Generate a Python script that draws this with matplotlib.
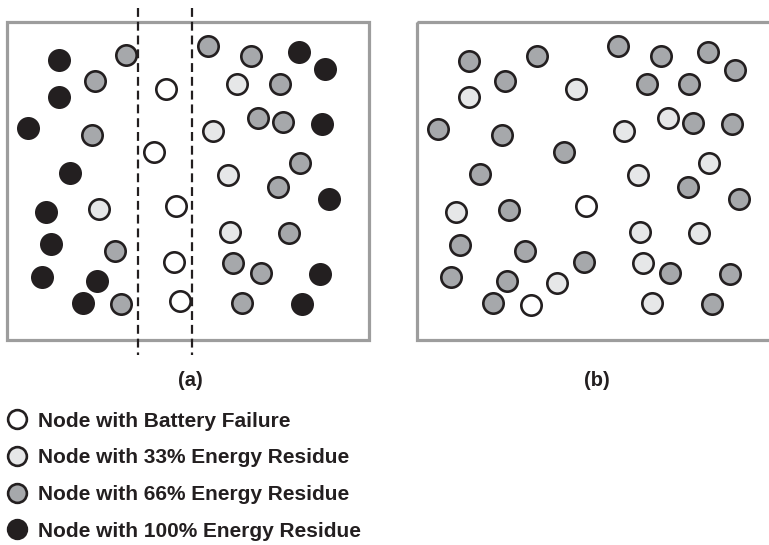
import matplotlib.pyplot as plt
from matplotlib.patches import Rectangle
from matplotlib.lines import Line2D

plt.rcParams['font.family'] = ['Liberation Sans', 'DejaVu Sans']

# node positions (pixel-like coordinates of the drawing), grouped by energy level
# panel (a)
a_dead_x = [166, 154, 176, 174, 180]
a_dead_y = [89, 152, 206, 262, 301]
a_33_x = [99, 237, 213, 228, 230]
a_33_y = [209, 84, 131, 175, 232]
a_66_x = [126, 95, 92, 115, 121, 208, 251, 280, 258, 283, 300, 278, 289, 233, 261, 242]
a_66_y = [55, 81, 135, 251, 304, 46, 56, 84, 118, 122, 163, 187, 233, 263, 273, 303]
a_100_x = [59, 59, 28, 70, 46, 51, 42, 97, 83, 299, 325, 322, 329, 320, 302]
a_100_y = [60, 97, 128, 173, 212, 244, 277, 281, 303, 52, 69, 124, 199, 274, 304]

# panel (b)
b_dead_x = [586, 531]
b_dead_y = [206, 305]
b_33_x = [469, 576, 456, 557, 624, 668, 709, 638, 640, 699, 643, 652]
b_33_y = [97, 89, 212, 283, 131, 118, 163, 175, 232, 233, 263, 303]
b_66_x = [469, 537, 505, 438, 502, 564, 480, 509, 460, 525, 451, 507, 493, 584,
          618, 661, 708, 735, 647, 689, 693, 732, 688, 739, 670, 730, 712]
b_66_y = [61, 56, 81, 129, 135, 152, 174, 210, 245, 251, 277, 281, 303, 262,
          46, 56, 52, 70, 84, 84, 123, 124, 187, 199, 273, 274, 304]

# failure zone boundaries in panel (a)
zone_x = [138, 192]

labels = ['Node with Battery Failure', 'Node with 33% Energy Residue',
          'Node with 66% Energy Residue', 'Node with 100% Energy Residue']
fills = ['white', '#e6e7e8', '#a6a8ab', '#231f20']
edge = '#231f20'

fig = plt.figure(figsize=(7.69, 5.45), dpi=100)
ax = fig.add_axes([0, 0, 1, 1])
ax.set_xlim(0, 769)
ax.set_ylim(545, 0)
ax.axis('off')

# boxes
ax.add_patch(Rectangle((7, 22), 362, 318, fill=False, ec='#9d9d9d', lw=2.3, zorder=1))
ax.add_patch(Rectangle((417, 22), 370, 318, fill=False, ec='#9d9d9d', lw=2.3, zorder=1,
                       clip_on=True))

for x in zone_x:
    ax.plot([x, x], [8, 355], ls=(0, (4, 2.2)), color=edge, lw=1.6, zorder=2)

ms = 215
lw = 1.9
groups = [(a_dead_x, a_dead_y, 0), (a_33_x, a_33_y, 1), (a_66_x, a_66_y, 2),
          (a_100_x, a_100_y, 3), (b_dead_x, b_dead_y, 0), (b_33_x, b_33_y, 1),
          (b_66_x, b_66_y, 2)]
for xs, ys, k in groups:
    ax.scatter(xs, ys, s=ms, c=fills[k], edgecolors=edge, linewidths=lw, zorder=3)

ax.text(190, 381, '(a)', ha='center', va='center', fontsize=14.5, fontweight='bold',
        color=edge)
ax.text(597, 381, '(b)', ha='center', va='center', fontsize=14.5, fontweight='bold',
        color=edge)

handles = [Line2D([], [], ls='none', marker='o', markersize=13.5, markerfacecolor=f,
                  markeredgecolor=edge, markeredgewidth=lw) for f in fills]
leg = ax.legend(handles, labels, loc='upper left', bbox_to_anchor=(0.0, 0.26),
                frameon=False, handletextpad=0.55, handlelength=0.85,
                labelspacing=0.85, borderaxespad=0.0,
                prop={'weight': 'bold', 'size': 15})
for t in leg.get_texts():
    t.set_color(edge)

fig.savefig('out.png', dpi=100)
